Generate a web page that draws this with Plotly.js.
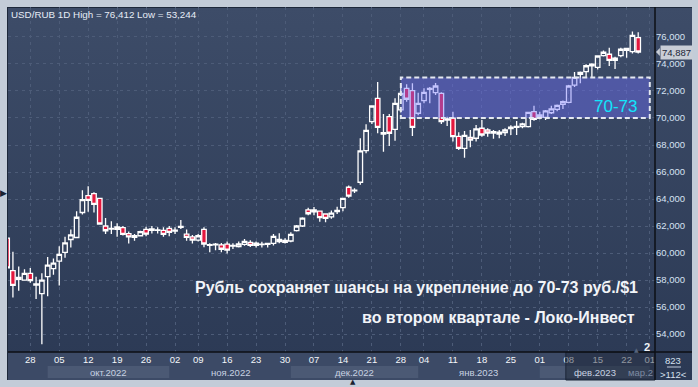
<!DOCTYPE html>
<html><head><meta charset="utf-8">
<script src="https://cdn.plot.ly/plotly-3.0.1.min.js"></script>
<style>
html,body{margin:0;padding:0;width:698px;height:387px;overflow:hidden;background:#c3ccd8;}
#panel{position:absolute;left:7px;top:7px;width:685px;height:373px;background:linear-gradient(#3d4c68,#2b3954);box-shadow:inset 1px 1px 0 #1d283a;}
#chart{position:absolute;left:0;top:0;width:698px;height:387px;}
</style></head><body><div id="panel"></div><div id="chart"></div>
<script>
const dates = ['2022-09-22','2022-09-23','2022-09-26','2022-09-27','2022-09-28','2022-09-29','2022-09-30',
'2022-10-03','2022-10-04','2022-10-05','2022-10-06','2022-10-07','2022-10-10','2022-10-11','2022-10-12','2022-10-13','2022-10-14',
'2022-10-17','2022-10-18','2022-10-19','2022-10-20','2022-10-21','2022-10-24','2022-10-25','2022-10-26','2022-10-27','2022-10-28',
'2022-10-31','2022-11-01','2022-11-02','2022-11-03','2022-11-07','2022-11-08','2022-11-09','2022-11-10','2022-11-11',
'2022-11-14','2022-11-15','2022-11-16','2022-11-17','2022-11-18','2022-11-21','2022-11-22','2022-11-23','2022-11-24','2022-11-25',
'2022-11-28','2022-11-29','2022-11-30','2022-12-01','2022-12-02','2022-12-05','2022-12-06','2022-12-07','2022-12-08','2022-12-09',
'2022-12-12','2022-12-13','2022-12-14','2022-12-15','2022-12-16','2022-12-19','2022-12-20','2022-12-21','2022-12-22','2022-12-23',
'2022-12-26','2022-12-27','2022-12-28','2022-12-29','2022-12-30','2023-01-03','2023-01-04','2023-01-05','2023-01-06',
'2023-01-09','2023-01-10','2023-01-11','2023-01-12','2023-01-13','2023-01-16','2023-01-17','2023-01-18','2023-01-19','2023-01-20',
'2023-01-23','2023-01-24','2023-01-25','2023-01-26','2023-01-27','2023-01-30','2023-01-31','2023-02-01','2023-02-02','2023-02-03',
'2023-02-06','2023-02-07','2023-02-08','2023-02-09','2023-02-10','2023-02-13','2023-02-14','2023-02-15','2023-02-16','2023-02-17',
'2023-02-20','2023-02-21','2023-02-22','2023-02-24','2023-02-27'];
const futureDates = ['2023-02-28','2023-03-01'];

const openP = [61.1,58.7,58.2,58.0,58.5,57.62,57.0,
58.25,58.85,59.4,60.05,61.0,61.15,63.0,64.25,64.4,64.05,
62.0,61.78,61.93,61.88,61.43,61.16,61.28,61.75,61.68,61.68,
61.68,61.83,61.63,61.9,61.4,61.19,60.96,61.75,60.57,
60.6,60.6,60.66,60.52,60.47,60.64,60.79,60.74,60.62,60.64,
60.72,61.01,60.94,60.89,61.66,62.0,63.19,63.19,63.11,62.89,
62.67,63.06,63.36,64.87,64.6,65.24,67.58,69.73,71.46,68.81,
70.1,69.16,70.6,72.2,72.02,70.35,71.28,72.13,71.88,
71.83,69.85,70.0,68.64,67.75,68.57,68.5,69.24,69.11,68.89,
68.81,68.91,69.21,69.3,69.36,69.36,70.47,70.05,70.05,70.39,
70.64,71.01,71.16,72.44,73.24,73.43,73.87,73.75,74.62,74.72,
74.27,74.62,75.16,74.92,75.95];
const highP = [61.4,60.1,59.0,58.8,58.9,58.25,58.5,
59.7,59.6,60.5,61.2,61.75,63.1,64.65,64.95,64.5,64.1,
62.6,62.35,62.2,62.0,61.6,61.4,61.65,61.95,62.0,61.9,
61.9,62.0,61.9,62.45,61.75,61.33,61.4,61.9,60.72,
60.75,60.75,60.85,60.72,60.85,61.04,60.95,60.85,60.83,60.74,
61.41,61.46,61.1,61.53,62.07,62.65,63.36,63.4,63.15,62.95,
63.14,63.43,64.1,65.0,64.8,68.5,69.53,70.9,72.67,70.3,
70.3,71.46,72.44,72.5,72.57,71.87,72.2,72.3,72.6,
71.9,70.1,70.47,68.94,69.04,69.11,69.48,69.85,69.24,69.11,
69.11,69.24,69.46,69.78,69.65,70.47,70.91,70.47,70.6,70.9,
71.0,71.3,72.45,73.41,73.45,73.98,74.05,74.65,75.0,75.21,
74.54,75.2,75.2,76.412,76.35];
const lowP = [58.8,56.7,57.2,57.95,57.8,56.6,53.244,
56.8,58.4,57.6,59.65,60.4,61.1,62.85,63.05,63.0,62.1,
61.4,61.4,61.2,61.3,60.7,60.9,61.25,61.25,61.45,61.45,
61.2,61.25,61.4,61.78,60.9,60.7,60.85,60.42,60.05,
60.2,60.05,59.96,60.3,60.4,60.54,60.45,60.4,60.4,60.4,
60.56,60.72,60.7,60.79,61.6,61.92,62.79,62.8,62.32,62.27,
62.53,62.89,63.1,64.1,64.45,65.05,67.38,69.55,68.87,67.5,
67.93,68.32,70.4,71.2,68.67,70.2,71.1,71.1,71.7,
69.55,69.4,68.25,67.63,67.06,67.83,68.25,68.62,68.62,68.47,
68.5,68.67,68.74,68.74,69.24,69.3,69.8,69.9,69.85,70.3,
70.5,70.67,71.1,72.3,72.57,72.99,73.0,73.6,74.55,73.85,
73.63,74.5,74.47,74.77,74.77];
const closeP = [58.9,57.6,58.05,58.5,57.95,57.72,58.0,
59.1,59.25,59.9,60.75,61.35,62.65,63.95,63.9,63.6,62.15,
61.65,61.83,61.76,61.38,61.2,61.28,61.58,61.4,61.78,61.72,
61.38,61.53,61.7,61.98,61.16,60.96,61.28,60.67,60.62,
60.66,60.28,60.22,60.57,60.67,60.86,60.57,60.57,60.66,60.72,
61.24,60.84,60.79,61.38,62.0,62.59,62.91,63.04,62.62,62.57,
62.96,63.16,64.05,64.22,64.66,67.56,69.09,70.89,69.31,68.91,
68.87,71.09,71.83,71.39,69.31,71.09,71.9,72.2,72.37,
69.73,69.93,68.62,67.75,68.72,68.37,69.19,68.74,68.89,68.99,
68.96,69.11,69.33,69.37,69.56,70.42,69.9,70.22,70.52,70.67,
70.94,71.21,72.37,73.01,73.38,73.87,73.98,74.59,74.87,74.27,
74.44,75.09,75.01,76.12,74.887];

const tickDates = ['2022-09-28','2022-10-05','2022-10-12','2022-10-19','2022-10-26','2022-11-02','2022-11-09','2022-11-16',
'2022-11-23','2022-11-30','2022-12-07','2022-12-14','2022-12-21','2022-12-28','2023-01-04','2023-01-11','2023-01-18',
'2023-01-25','2023-02-01','2023-02-08','2023-02-15','2023-02-22','2023-03-01'];
const monthStarts = ['2022-10-03','2022-11-01','2022-12-01','2023-01-03','2023-02-01','2023-03-01'];
const monthLabels = ['окт.2022','ноя.2022','дек.2022','янв.2023','фев.2023','мар.2'];
const yTicks = [54,56,58,60,62,64,66,68,70,72,74,76];
const zoneLow = 70, zoneHigh = 73;
const zoneStart = '2022-12-28', zoneEnd = '2023-03-01';
const zoneLabel = '70-73';
const headline = ['Рубль сохраняет шансы на укрепление до 70-73 руб./$1', 'во втором квартале - Локо-Инвест'];
const instrument = 'USD/RUB 1D';
const dimFrom = '2023-02-08';

const axisDates = dates.concat(futureDates);
const idx = d => axisDates.indexOf(d);
const fmt = v => v.toFixed(3).replace('.', ',');
const xRange = [0.15, 111.9];
const FONT = 'Liberation Sans, Arial, sans-serif';
const lastClose = closeP[closeP.length - 1];

const trace = {
  type: 'candlestick',
  x: dates.map(idx), open: openP, high: highP, low: lowP, close: closeP,
  whiskerwidth: 0,
  increasing: {line: {color: '#ffffff', width: 1.3}, fillcolor: 'rgba(0,0,0,0)'},
  decreasing: {line: {color: '#ffffff', width: 1.3}, fillcolor: '#e3173d'},
  hoverinfo: 'skip'
};

const shapes = [];
const annotations = [];
shapes.push({type:'rect', xref:'paper', yref:'paper', x0:0, x1:1, y0:-0.0812, y1:0, fillcolor:'#3c4a66', line:{width:0}, layer:'below'});
monthStarts.forEach((m, k) => {
  const a = idx(m);
  const b = k + 1 < monthStarts.length ? idx(monthStarts[k + 1]) : xRange[1] + 2;
  if (k % 2 === 0) {
    shapes.push({type:'rect', xref:'x', yref:'paper', x0:a, x1:b, y0:-0.0754, y1:-0.0406, fillcolor:'#4b5974', line:{width:0}, layer:'below'});
  }
  const dim = m >= dimFrom;
  if (k + 1 < monthStarts.length) {
    annotations.push({xref:'x', yref:'paper', x:(a + b) / 2, y:-0.058, text:monthLabels[k], showarrow:false,
      font:{family:FONT, size:9.5, color: dim ? '#7d8aa2' : '#c8d2e2'}, xanchor:'center', yanchor:'middle'});
  } else {
    annotations.push({xref:'paper', yref:'paper', x:1, y:-0.058, text:monthLabels[k], showarrow:false,
      font:{family:FONT, size:9.5, color:'#7d8aa2'}, xanchor:'right', yanchor:'middle'});
  }
});
shapes.push({type:'rect', xref:'x', yref:'paper', x0:idx(dimFrom) - 0.5, x1:xRange[1] + 1, y0:-0.0812, y1:0,
  fillcolor:'rgba(22,30,46,0.45)', line:{width:1, color:'#1c2638'}, layer:'above'});
shapes.push({type:'rect', xref:'x', yref:'y', x0:idx(zoneStart), x1:idx(zoneEnd), y0:zoneLow, y1:zoneHigh,
  fillcolor:'rgba(112,112,252,0.42)', line:{color:'#e4e8f0', width:2, dash:'5px,3px'}, layer:'above'});
shapes.push({type:'line', xref:'paper', yref:'paper', x0:1, x1:1, y0:-0.0812, y1:1, line:{color:'#0c0f15', width:1.5}, layer:'above'});
shapes.push({type:'line', xref:'paper', yref:'paper', x0:0, x1:1.0572, y0:0, y1:0, line:{color:'#0c0f15', width:1.5}, layer:'above'});
shapes.push({type:'path', xref:'paper', yref:'y', path:`M 1.0015 ${lastClose} L 1.0075 ${lastClose + 0.3} L 1.0075 ${lastClose - 0.3} Z`,
  fillcolor:'#c8cdd6', line:{width:0}, layer:'above'});
shapes.push({type:'line', xref:'paper', yref:'paper', x0:1.0185, x1:1.0402, y0:-0.0435, y1:-0.0435, line:{color:'#c0cadb', width:1}, layer:'above'});

const hi = Math.max(...highP), lo = Math.min(...lowP);
annotations.push({xref:'paper', yref:'paper', x:0.002, y:0.977, xanchor:'left', yanchor:'middle', showarrow:false,
  text:`${instrument} High = ${fmt(hi)} Low = ${fmt(lo)}`, font:{family:FONT, size:9.8, color:'#e6ecf6'}});
annotations.push({xref:'paper', yref:'paper', x:0.977, y:0.188, xanchor:'right', yanchor:'middle', showarrow:false,
  text:'<b>' + headline[0] + '</b>', font:{family:FONT, size:16, color:'#f2f4f8'}});
annotations.push({xref:'paper', yref:'paper', x:0.9725, y:0.0986, xanchor:'right', yanchor:'middle', showarrow:false,
  text:'<b>' + headline[1] + '</b>', font:{family:FONT, size:16, color:'#f2f4f8'}});
annotations.push({xref:'paper', yref:'y', x:0.939, y:(zoneLow + zoneHigh) / 2 - 0.65, xanchor:'center', yanchor:'middle', showarrow:false,
  text:zoneLabel, font:{family:FONT, size:17, color:'#12e4fb'}});
annotations.push({xref:'paper', yref:'y', x:1.0075, y:lastClose, xanchor:'left', yanchor:'middle', showarrow:false,
  text:fmt(lastClose), bgcolor:'#c8cdd6', borderpad:1, font:{family:FONT, size:9.5, color:'#1b2638'}});
annotations.push({xref:'paper', yref:'paper', x:1.0285, y:-0.026, xanchor:'center', yanchor:'middle', showarrow:false,
  text:String(dates.length + 713), font:{family:FONT, size:9.5, color:'#d6e0ee'}});
annotations.push({xref:'paper', yref:'paper', x:1.0285, y:-0.0638, xanchor:'center', yanchor:'middle', showarrow:false,
  text:'&gt;' + (dates.length + 2) + '&lt;', font:{family:FONT, size:9.5, color:'#d6e0ee'}});
annotations.push({xref:'paper', yref:'paper', x:0.9876, y:0.0145, xanchor:'center', yanchor:'middle', showarrow:false,
  text:'<b>2</b>', font:{family:FONT, size:11, color:'#f0f3f8'}});
annotations.push({xref:'paper', yref:'paper', x:0.972, y:0.008, xanchor:'center', yanchor:'middle', showarrow:false,
  text:'▲', font:{family:'DejaVu Sans', size:6, color:'#56647c'}});
annotations.push({xref:'paper', yref:'paper', x:-0.0077, y:0.461, xanchor:'center', yanchor:'middle', showarrow:false,
  text:'▶', font:{family:'DejaVu Sans', size:9, color:'#1a2230'}});
annotations.push({xref:'paper', yref:'paper', x:0.533, y:-0.087, xanchor:'center', yanchor:'middle', showarrow:false,
  text:'▲', font:{family:'DejaVu Sans', size:7, color:'#1a2230'}});

const layout = {
  width:698, height:387,
  margin:{l:8, r:43, t:7, b:35, pad:0},
  paper_bgcolor:'rgba(0,0,0,0)', plot_bgcolor:'rgba(0,0,0,0)',
  showlegend:false, boxgap:0.22, boxgroupgap:0,
  xaxis:{type:'linear', range:xRange, tickvals:tickDates.map(idx), ticktext:tickDates.map(d => d.slice(8)),
    showgrid:true, gridcolor:'#4d5c78', griddash:'3px,4px', gridwidth:1, zeroline:false, showline:false, ticks:'',
    tickfont:{family:FONT, size:9.5, color:'#f4f6fa'}, rangeslider:{visible:false}, fixedrange:true},
  yaxis:{side:'right', range:[52.67, 78.22], tickvals:yTicks, ticktext:yTicks.map(fmt),
    showgrid:true, gridcolor:'#4d5c78', griddash:'3px,4px', gridwidth:1, zeroline:false, showline:false, ticks:'',
    tickfont:{family:FONT, size:9.5, color:'#d6e2f2'}, fixedrange:true},
  shapes:shapes, annotations:annotations
};
Plotly.newPlot('chart', [trace], layout, {displayModeBar:false, staticPlot:true});
</script></body></html>
